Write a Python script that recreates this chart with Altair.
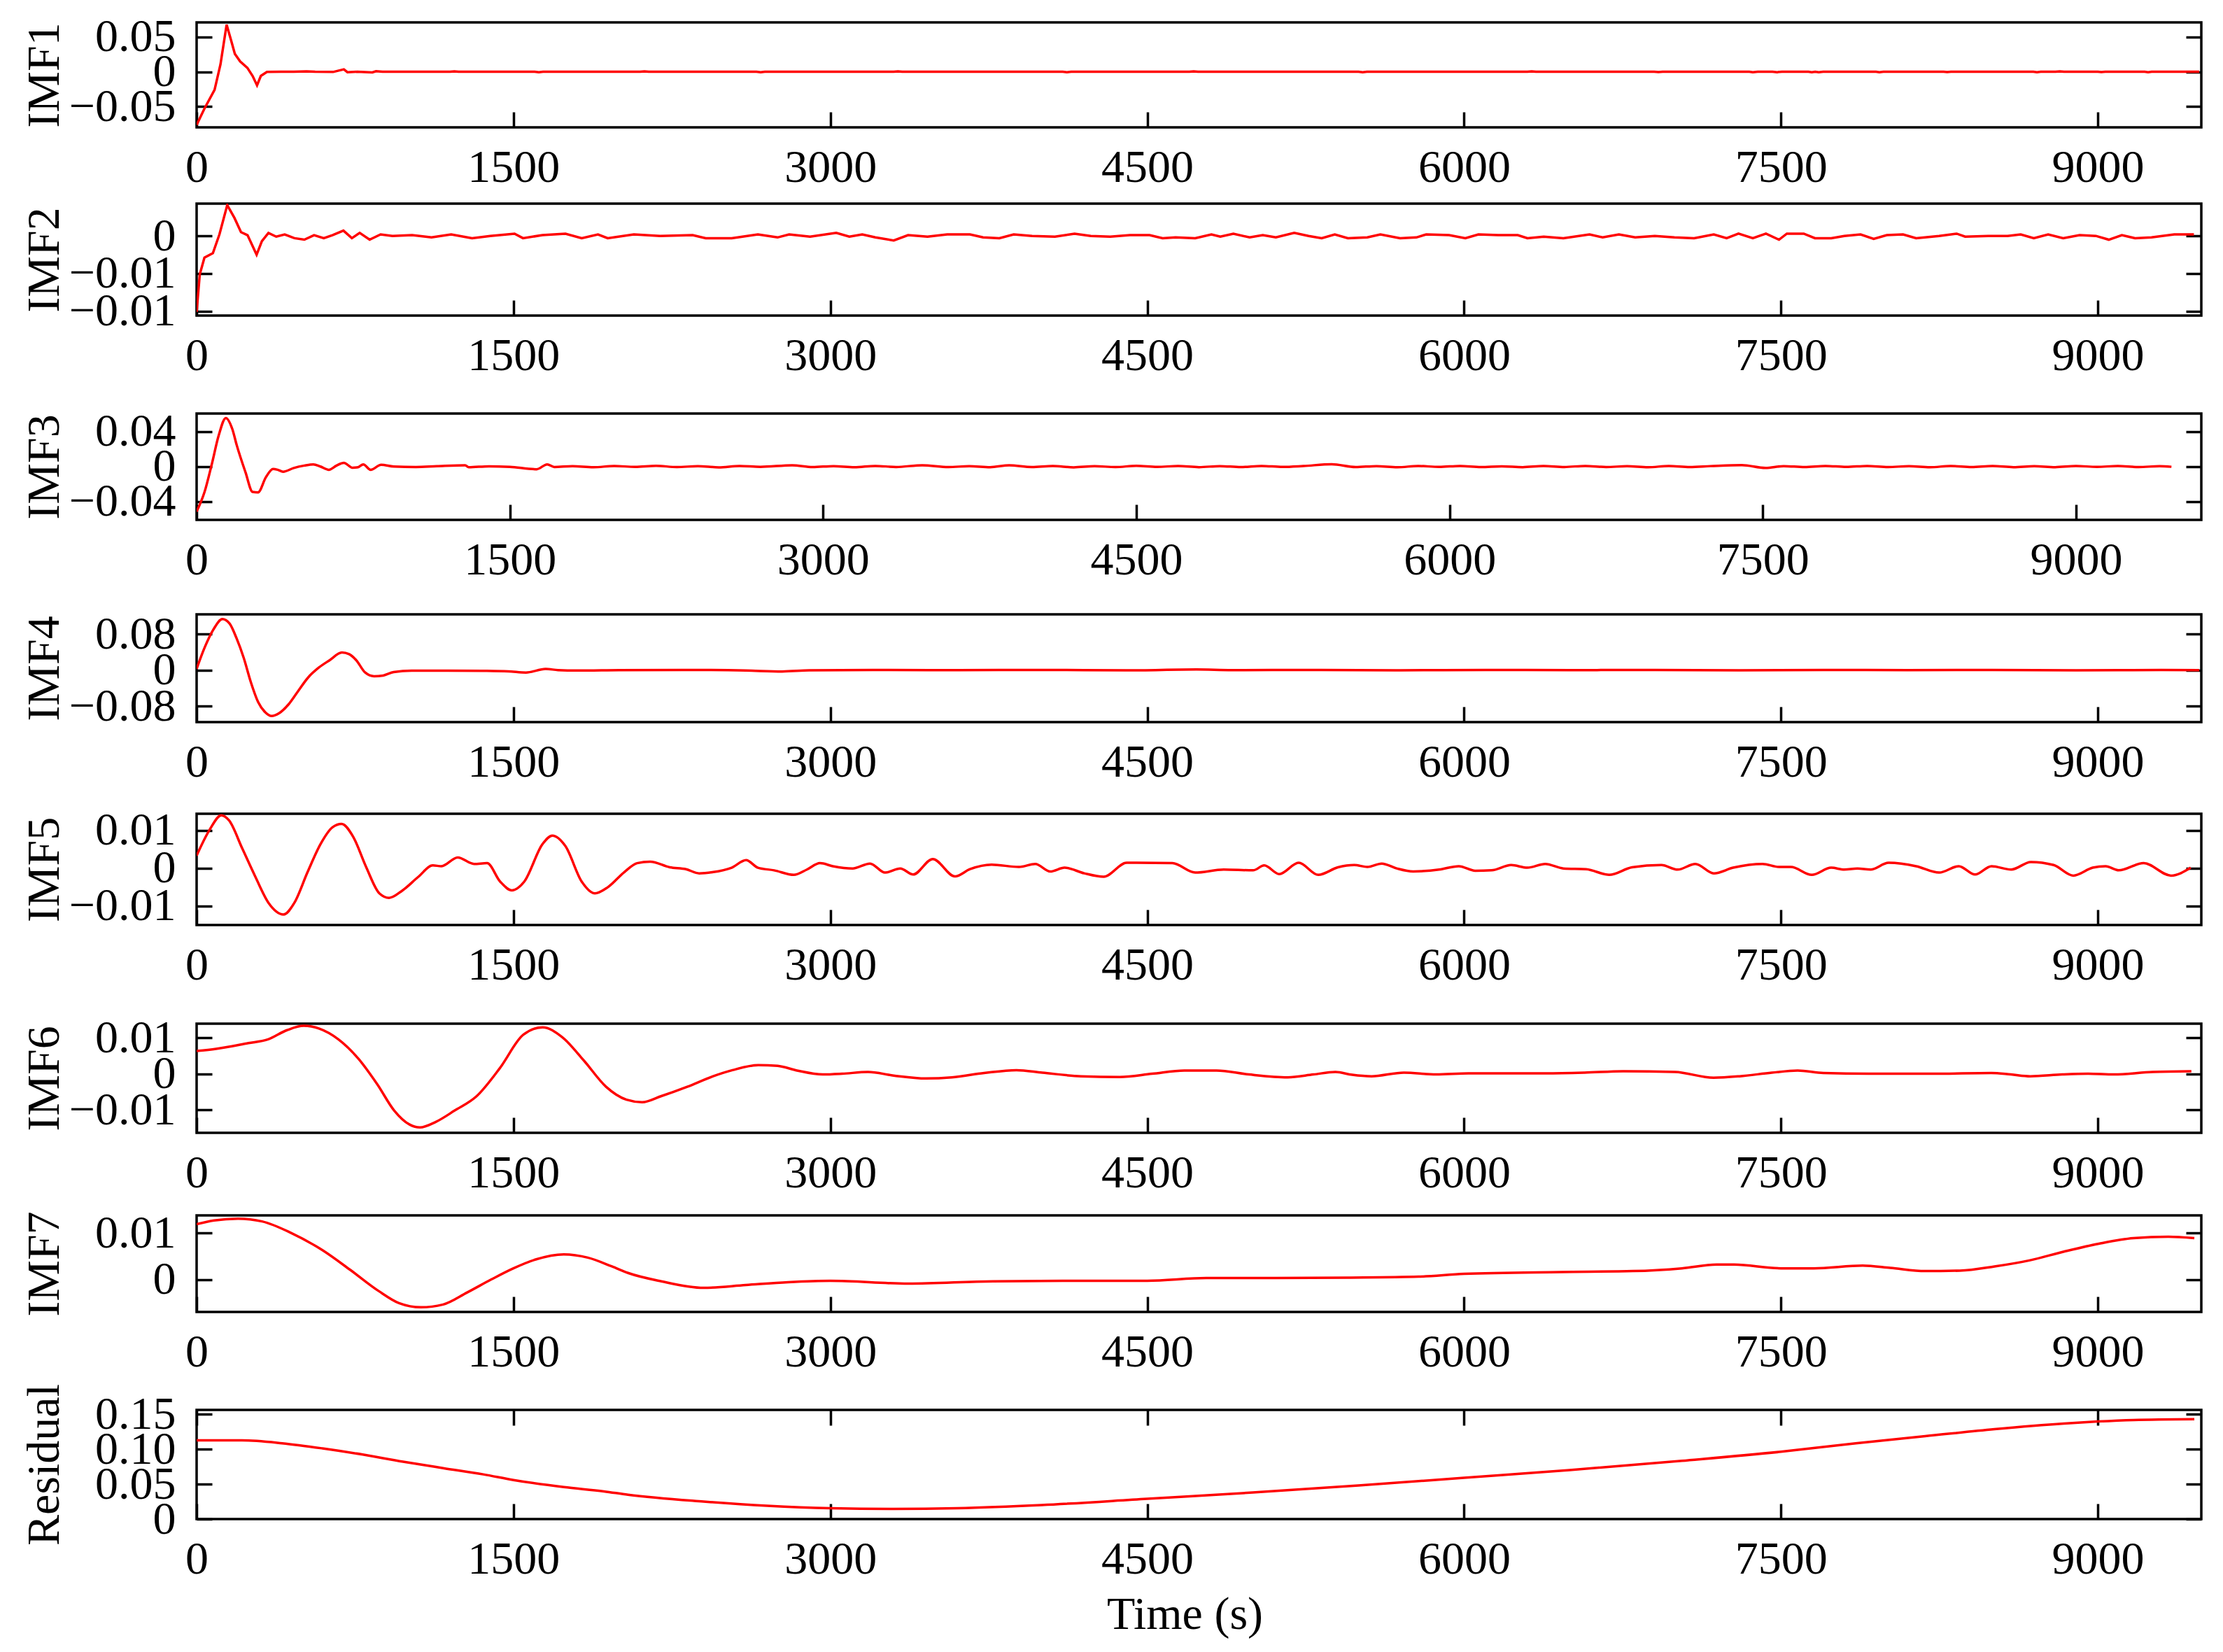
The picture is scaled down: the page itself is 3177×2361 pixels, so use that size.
import altair as alt
import pandas as pd

# ---------------- data ----------------
X_TICKS = [0, 1500, 3000, 4500, 6000, 7500, 9000]

IMF1_T = [0, 37, 85, 113, 142, 164, 181, 206, 240, 265, 286, 304, 333, 400, 460, 520, 561, 646, 697, 714, 760,
          832, 849, 880, 1200, 1220, 1240, 1600, 1620, 1640, 2100, 2120, 2140, 2650, 2670, 2690, 3300, 3320,
          3340, 4100, 4120, 4140, 4700, 4720, 4740, 5500, 5520, 5540, 6300, 6320, 6340, 6900, 6920, 6940,
          7350, 7367, 7390, 7460, 7482, 7505, 7630, 7646, 7662, 7679, 7700, 7950, 7966, 7985, 8270, 8287,
          8305, 8695, 8712, 8730, 8800, 8820, 8840, 9000, 9017, 9035, 9222, 9238, 9255, 9480]
IMF1_V = [-0.0765, -0.053, -0.026, 0.0107, 0.0678, 0.0443, 0.0258, 0.0148, 0.0057, -0.006, -0.0195, -0.006,
          -0.0003, 0.0, 0.0, 0.0005, 0.0, -0.0003, 0.0034, -0.0007, 0.0, -0.001, 0.0007, 0.0, 0.0, 0.0006, 0.0,
          0.0, -0.0006, 0.0, 0.0, 0.0006, 0.0, 0.0, -0.0006, 0.0, 0.0, 0.0005, 0.0, 0.0, -0.0006, 0.0, 0.0,
          0.0005, 0.0, 0.0, -0.0006, 0.0, 0.0, 0.0005, 0.0, 0.0, -0.0005, 0.0, 0.0, -0.0006, 0.0, 0.0, -0.0006,
          0.0, 0.0, -0.0006, 0.0, -0.0006, 0.0, 0.0, -0.0006, 0.0, 0.0, -0.0005, 0.0, 0.0, -0.0006, 0.0, 0.0,
          0.0006, 0.0, 0.0, -0.0005, 0.0, 0.0, -0.0006, 0.0, 0.0]

IMF2_T = [0, 15, 37, 77, 108, 145, 179, 210, 241, 284, 309, 340, 377, 417, 463, 510, 556, 602, 643, 695, 735,
          772, 819, 871, 927, 1020, 1112, 1205, 1304, 1390, 1505, 1545, 1637, 1746, 1823, 1900, 1946, 2070,
          2194, 2348, 2410, 2533, 2657, 2750, 2805, 2904, 3028, 3090, 3151, 3213, 3300, 3368, 3460, 3553,
          3661, 3723, 3800, 3868, 3955, 4063, 4156, 4233, 4325, 4418, 4511, 4573, 4634, 4727, 4804, 4846,
          4908, 4985, 5047, 5109, 5196, 5264, 5326, 5388, 5450, 5542, 5604, 5697, 5774, 5821, 5929, 6006,
          6068, 6161, 6254, 6300, 6377, 6470, 6594, 6656, 6733, 6810, 6903, 6996, 7089, 7182, 7243, 7299,
          7367, 7429, 7491, 7528, 7608, 7661, 7738, 7800, 7877, 7939, 8001, 8078, 8140, 8249, 8332, 8372,
          8481, 8573, 8635, 8697, 8765, 8836, 8914, 8991, 9052, 9114, 9176, 9254, 9362, 9455]
IMF2_V = [-0.0101, -0.0051, -0.0029, -0.0023, 0.0002, 0.0041, 0.0024, 0.0005, 0.0001, -0.0025, -0.0007,
          0.0004, -0.0001, 0.0002, -0.0003, -0.0005, 0.0001, -0.0003, 0.0001, 0.0007, -0.0003, 0.0004,
          -0.0005, 0.0002, 0.0, 0.0001, -0.0002, 0.0002, -0.0003, 0.0, 0.0003, -0.0003, 0.0001, 0.0003,
          -0.0003, 0.0002, -0.0003, 0.0002, 0.0, 0.0001, -0.0003, -0.0003, 0.0002, -0.0002, 0.0002, -0.0001,
          0.0004, -0.0001, 0.0002, -0.0002, -0.0006, 0.0001, -0.0001, 0.0002, 0.0002, -0.0002, -0.0003,
          0.0002, 0.0, -0.0001, 0.0003, 0.0, -0.0001, 0.0001, 0.0001, -0.0003, -0.0002, -0.0003, 0.0002,
          -0.0001, 0.0003, -0.0002, 0.0001, -0.0002, 0.0004, 0.0, -0.0003, 0.0002, -0.0003, -0.0002, 0.0002,
          -0.0003, -0.0002, 0.0002, 0.0001, -0.0003, 0.0002, 0.0001, 0.0001, -0.0003, -0.0001, -0.0003,
          0.0002, -0.0002, 0.0002, -0.0002, 0.0, -0.0002, -0.0003, 0.0002, -0.0003, 0.0003, -0.0003, 0.0003,
          -0.0005, 0.0003, 0.0003, -0.0003, -0.0003, 0.0, 0.0002, -0.0004, 0.0001, 0.0002, -0.0003, 0.0,
          0.0003, -0.0001, 0.0, 0.0, 0.0002, -0.0003, 0.0002, -0.0003, 0.0001, 0.0, -0.0005, 0.0001, -0.0003,
          -0.0002, 0.0002, 0.0002]

IMF3_T = [0, 38, 72, 106, 140, 171, 192, 234, 268, 294, 332, 366, 388, 414, 465, 516, 559, 593, 633, 670,
          705, 747, 773, 798, 833, 884, 944, 1050, 1150, 1286, 1303, 1400, 1500, 1628, 1679, 1713, 1800,
          1900, 2000, 2100, 2200, 2300, 2400, 2500, 2600, 2700, 2852, 2950, 3050, 3150, 3250, 3350, 3475,
          3600, 3700, 3800, 3891, 4000, 4100, 4200, 4300, 4400, 4500, 4600, 4700, 4800, 4900, 5000, 5100,
          5200, 5300, 5436, 5550, 5650, 5750, 5850, 5950, 6050, 6150, 6250, 6350, 6450, 6550, 6650, 6750,
          6850, 6950, 7050, 7150, 7250, 7400, 7513, 7600, 7700, 7800, 7900, 8000, 8100, 8200, 8300, 8400,
          8500, 8600, 8700, 8800, 8900, 9000, 9100, 9200, 9300, 9400, 9457]
IMF3_V = [-0.0515, -0.029, 0.002, 0.0358, 0.0555, 0.0428, 0.0245, -0.0065, -0.029, -0.0296, -0.0121,
          -0.0028, -0.0037, -0.0059, -0.0017, 0.0011, 0.0025, 0.0, -0.0037, 0.0011, 0.0042, -0.0014, -0.0008,
          0.0025, -0.0037, 0.002, 0.0, -0.0005, 0.0004, 0.0014, -0.0008, 0.0003, -0.0004, -0.0031, 0.0025,
          -0.0005, 0.0005, -0.0008, 0.0006, -0.0004, 0.0008, -0.0006, 0.0004, -0.0009, 0.0006, -0.0003,
          0.0015, -0.0006, 0.0005, -0.0008, 0.0007, -0.0005, 0.0015, -0.0006, 0.0004, -0.0007, 0.0014,
          -0.0005, 0.0006, -0.0009, 0.0004, -0.0006, 0.0008, -0.0004, 0.0006, -0.0007, 0.0005, -0.0006,
          0.0007, -0.0004, 0.0006, 0.0026, -0.0006, 0.0005, -0.0008, 0.0006, -0.0004, 0.0007, -0.0006,
          0.0003, -0.0007, 0.0006, -0.0005, 0.0007, -0.0006, 0.0004, -0.0008, 0.0006, -0.0005, 0.0005,
          0.0016, -0.0016, 0.0005, -0.0006, 0.0007, -0.0004, 0.0007, -0.0006, 0.0004, -0.0008, 0.0006,
          -0.0005, 0.0006, -0.0007, 0.0004, -0.0007, 0.0006, -0.0004, 0.0006, -0.0006, 0.0004, -0.0003]

IMF4_T = [0, 37, 79, 122, 156, 189, 223, 257, 291, 325, 355, 392, 435, 477, 528, 578, 629, 688, 722, 756,
          798, 840, 883, 933, 1018, 1187, 1356, 1475, 1559, 1652, 1711, 1800, 2000, 2300, 2600, 2772, 2900,
          3200, 3600, 4000, 4400, 4733, 4900, 5300, 5700, 6100, 6500, 6900, 7300, 7700, 8100, 8500, 8900,
          9300, 9480]
IMF4_V = [0.0027, 0.0488, 0.0895, 0.1128, 0.103, 0.0705, 0.0271, -0.0271, -0.0705, -0.0933, -0.1014,
          -0.0949, -0.0759, -0.0488, -0.0163, 0.0054, 0.0217, 0.039, 0.0353, 0.0217, -0.0054, -0.0136,
          -0.0119, -0.0043, -0.0011, -0.0011, -0.0016, -0.0027, -0.0054, 0.0027, 0.0, -0.001, 0.0, 0.0005,
          -0.001, -0.003, -0.0005, 0.0005, 0.0, 0.0005, -0.0005, 0.0015, 0.0, 0.0005, -0.0005, 0.0005, 0.0,
          0.0005, -0.0005, 0.0005, 0.0, 0.0005, -0.0005, 0.0003, 0.0]

IMF5_T = [0, 62, 117, 154, 216, 278, 340, 411, 463, 525, 587, 643, 686, 741, 803, 865, 911, 973, 1050,
          1118, 1159, 1236, 1313, 1375, 1437, 1492, 1551, 1638, 1684, 1746, 1823, 1885, 1946, 2024, 2085,
          2147, 2240, 2317, 2379, 2441, 2533, 2601, 2657, 2734, 2827, 2889, 2951, 3012, 3105, 3188, 3259,
          3331, 3392, 3485, 3590, 3661, 3763, 3893, 3970, 4041, 4109, 4202, 4294, 4403, 4619, 4727, 4862,
          5001, 5054, 5125, 5217, 5310, 5403, 5480, 5542, 5610, 5681, 5759, 5882, 5975, 6053, 6130, 6223,
          6300, 6384, 6470, 6578, 6687, 6795, 6934, 7011, 7095, 7182, 7274, 7413, 7491, 7547, 7646, 7738,
          7800, 7862, 7924, 8010, 8140, 8249, 8342, 8419, 8497, 8590, 8683, 8791, 8884, 8976, 9037, 9099,
          9217, 9347, 9440]
IMF5_V = [0.0033, 0.0102, 0.0140, 0.0126, 0.0052, -0.0023, -0.0092, -0.0123, -0.0092, -0.0011,
          0.0064, 0.0108, 0.0117, 0.0083, 0.0002, -0.0067, -0.0079, -0.006, -0.0023, 0.0007,
          0.0005, 0.0028, 0.0011, 0.0013, -0.0036, -0.0059, -0.0036, 0.0064, 0.0086, 0.0058,
          -0.0036, -0.0067, -0.0051, -0.0011, 0.0013, 0.0017, 0.0002, -0.0003, -0.0014, -0.0011,
          0.0001, 0.0021, 0.0001, -0.0006, -0.0018, -0.0004, 0.0013, 0.0005, -0.0001, 0.0012,
          -0.0012, -0.0001, -0.0017, 0.0024, -0.0022, -0.0003, 0.0009, 0.0003, 0.0011, -0.0009,
          0.0001, -0.0014, -0.0023, 0.0014, 0.0013, -0.0012, -0.0004, -0.0006, 0.0007, -0.0016,
          0.0014, -0.0018, 0.0002, 0.0008, 0.0003, 0.0012, -0.0001, -0.0009, -0.0004, 0.0005,
          -0.0007, -0.0006, 0.0008, 0.0001, 0.0011, -0.0001, -0.0003, -0.0018, 0.0002, 0.0008,
          -0.0004, 0.0011, -0.0014, 0.0001, 0.0011, 0.0003, 0.0003, -0.0018, 0.0001, -0.0004,
          -0.0001, -0.0004, 0.0014, 0.0005, -0.0012, 0.0005, -0.0017, 0.0005, -0.0004, 0.0016,
          0.0008, -0.002, 0.0001, 0.0005, -0.0006, 0.0013, -0.002, 0.0001]

IMF6_T = [0, 92, 245, 336, 428, 507, 581, 672, 764, 856, 935, 1008, 1057, 1131, 1222, 1326, 1436, 1546,
          1638, 1730, 1834, 1938, 2035, 2109, 2200, 2323, 2445, 2537, 2659, 2750, 2842, 2964, 3056, 3178,
          3300, 3453, 3575, 3728, 3881, 4003, 4187, 4370, 4523, 4676, 4828, 4981, 5165, 5287, 5391, 5470,
          5562, 5715, 5868, 6021, 6387, 6570, 6754, 6998, 7181, 7304, 7457, 7579, 7701, 7915, 8221, 8496,
          8588, 8680, 8832, 8954, 9077, 9260, 9443]
IMF6_V = [0.0063, 0.0069, 0.0085, 0.0095, 0.0121, 0.0133, 0.0125, 0.0095, 0.0043, -0.003,
          -0.0102, -0.0141, -0.0149, -0.0134, -0.0102, -0.0062, 0.0016, 0.0108, 0.0129, 0.0102,
          0.0036, -0.0036, -0.0072, -0.0079, -0.0062, -0.0036, -0.0007, 0.001, 0.0024, 0.0022,
          0.0009, -0.0002, 0.0, 0.0005, -0.0005, -0.0013, -0.001, 0.0002, 0.001, 0.0003,
          -0.0007, -0.0009, 0.0, 0.0009, 0.0009, -0.0002, -0.001, -0.0002, 0.0005, -0.0003,
          -0.0007, 0.0003, -0.0002, 0.0001, 0.0001, 0.0003, 0.0007, 0.0005, -0.0011, -0.0007,
          0.0003, 0.0009, 0.0002, 0.0, 0.0, 0.0002, -0.0002, -0.0007, -0.0002, 0.0,
          -0.0002, 0.0005, 0.0007]

IMF7_T = [0, 82, 196, 310, 444, 596, 729, 862, 958, 1062, 1167, 1281, 1395, 1500, 1605, 1738, 1852, 1966,
          2042, 2200, 2400, 2600, 2800, 3000, 3370, 3770, 4200, 4500, 4780, 5110, 5450, 5785, 6000, 6456,
          6800, 7031, 7196, 7278, 7500, 7656, 7887, 8018, 8183, 8347, 8511, 8676, 8840, 9005, 9169, 9334,
          9457]
IMF7_V = [0.0119, 0.0127, 0.0131, 0.0125, 0.0101, 0.0063, 0.002, -0.0025, -0.0051, -0.006,
          -0.0054, -0.0028, 0.0, 0.0024, 0.0043, 0.0054, 0.0047, 0.0028, 0.0014, -0.0004,
          -0.0018, -0.0012, -0.0006, -0.0003, -0.0009, -0.0004, -0.0003, -0.0003, 0.0003, 0.0003,
          0.0004, 0.0006, 0.0012, 0.0016, 0.0018, 0.0024, 0.0032, 0.0032, 0.0024, 0.0024,
          0.003, 0.0025, 0.0018, 0.0019, 0.0028, 0.0041, 0.006, 0.0077, 0.0089, 0.0092, 0.0089]

RES_T = [0, 215, 405, 596, 786, 977, 1167, 1357, 1500, 1738, 1928, 2042, 2400, 2700, 3000, 3300, 3600,
         4000, 4500, 5000, 5500, 6000, 6500, 7031, 7500, 7854, 8183, 8511, 8840, 9000, 9169, 9457]
RES_V = [0.1124, 0.1124, 0.1083, 0.101, 0.0922, 0.082, 0.0728, 0.0639, 0.0558, 0.0457, 0.0396, 0.0348,
         0.025, 0.019, 0.0155, 0.0145, 0.0155, 0.02, 0.029, 0.038, 0.048, 0.059, 0.07, 0.0833, 0.0962,
         0.1083, 0.1184, 0.1285, 0.1366, 0.1394, 0.1415, 0.1427]

NAMES = ["IMF1", "IMF2", "IMF3", "IMF4", "IMF5", "IMF6", "IMF7", "Residual"]
SERIES_T = [IMF1_T, IMF2_T, IMF3_T, IMF4_T, IMF5_T, IMF6_T, IMF7_T, RES_T]
SERIES_V = [IMF1_V, IMF2_V, IMF3_V, IMF4_V, IMF5_V, IMF6_V, IMF7_V, RES_V]
Y_DOMAINS = [[-0.08, 0.071], [-0.0106, 0.0043], [-0.061, 0.0606], [-0.115, 0.1234],
             [-0.0151, 0.0144], [-0.0164, 0.0139], [-0.007, 0.0138], [0.0, 0.156]]
Y_TICKS = [[-0.05, 0, 0.05], [-0.01, -0.005, 0], [-0.04, 0, 0.04], [-0.08, 0, 0.08],
           [-0.01, 0, 0.01], [-0.01, 0, 0.01], [0, 0.01], [0, 0.05, 0.1, 0.15]]
X_MAX = [9490, 9490, 9600, 9490, 9490, 9490, 9490, 9490]

# ---------------- layout / style ----------------
HEIGHTS = [150, 160, 152, 154, 159, 156, 138, 156]
SPACINGS = [15, 38, 36, 27, 34, 16, 8]
SMOOTH = [False, False, True, True, True, True, True, True]
PLOT_W = 2865
FONT = "Liberation Serif"
FS = 66
TL = 22  # inward tick length
LABEL_EXPR = "datum.value == 0 ? '0' : format(datum.value, '.2f')"

for a, b in zip(SERIES_T, SERIES_V):
    assert len(a) == len(b), (len(a), len(b))


def make_panel(i):
    last = i == len(NAMES) - 1
    h = HEIGHTS[i]
    df = pd.DataFrame({"t": SERIES_T[i], "v": SERIES_V[i]})
    xscale = alt.Scale(domain=[0, X_MAX[i]], nice=False, zero=False)
    yscale = alt.Scale(domain=Y_DOMAINS[i], nice=False, zero=False)
    xaxis = alt.Axis(values=X_TICKS, offset=-TL, tickSize=TL, labelPadding=25, domain=False, grid=False,
                     labelFlush=False, labelOverlap=False, format="d", titlePadding=14, titleX=1412)
    yaxis = alt.Axis(values=Y_TICKS[i], offset=-TL, tickSize=TL, labelPadding=30, domain=False, grid=False,
                     labelOverlap=False, labelExpr=LABEL_EXPR, titleX=-240, titleY=h / 2, titleAngle=270,
                     titleAlign="center", titleBaseline="middle")
    yaxis_r = alt.Axis(orient="right", values=Y_TICKS[i], offset=-TL, tickSize=TL, labels=False,
                       domain=False, grid=False)
    x_enc = alt.X("t:Q", scale=xscale, axis=xaxis, title=("Time (s)" if last else None))
    interp = "monotone" if SMOOTH[i] else "linear"
    line = alt.Chart(df).mark_line(color="#ff0000", strokeWidth=3.5, clip=True, interpolate=interp).encode(
        x=x_enc, y=alt.Y("v:Q", scale=yscale, axis=yaxis, title=NAMES[i]))
    if last:
        mx = alt.X("t:Q", scale=xscale, title=None,
                   axis=alt.Axis(orient="top", values=X_TICKS, offset=-TL, tickSize=TL, labels=False,
                                 domain=False, grid=False))
    else:
        mx = x_enc
    mirror = alt.Chart(df).mark_line(opacity=0).encode(
        x=mx, y=alt.Y("v:Q", scale=yscale, axis=yaxis_r, title=None))
    layered = alt.layer(line, mirror)
    if last:
        layered = layered.resolve_scale(x="independent", y="independent")
    else:
        layered = layered.resolve_scale(y="independent")
    return layered.properties(width=PLOT_W, height=h)


panels = [make_panel(i) for i in range(len(NAMES))]
combined = panels[-1]
for i in reversed(range(len(NAMES) - 1)):
    combined = alt.vconcat(panels[i], combined, spacing=SPACINGS[i])

chart = combined.properties(
    padding={"left": 20, "top": 10, "right": 10, "bottom": 10}
).configure_view(
    stroke="black", strokeWidth=3.5
).configure_axis(
    labelFont=FONT, titleFont=FONT, labelFontSize=FS, titleFontSize=FS, titleFontWeight="normal",
    labelColor="black", titleColor="black", tickColor="black", tickWidth=3.5
)

chart.save("out.html", embed_options={"renderer": "svg", "actions": False})
